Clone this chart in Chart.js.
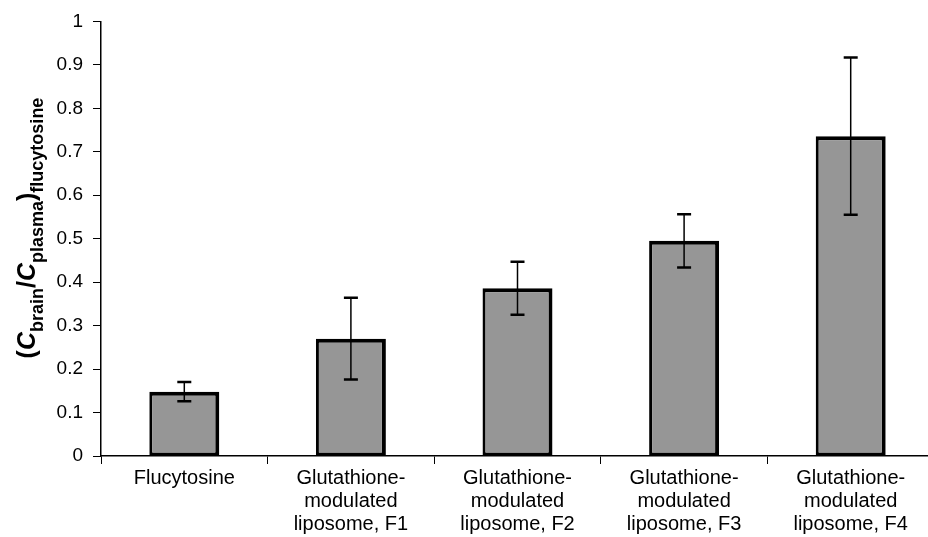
<!DOCTYPE html>
<html><head><meta charset="utf-8">
<script src="https://cdn.jsdelivr.net/npm/chart.js@4"></script>
<style>
html,body{margin:0;padding:0;background:#fff;overflow:hidden;width:928px;height:537px}
#wrap{position:relative;width:934px;height:537px}
canvas{display:block}
</style></head><body>
<div id="wrap"><canvas id="c" width="934" height="537"></canvas></div>
<script>
const categories = [
  ['Flucytosine'],
  ['Glutathione-','modulated','liposome, F1'],
  ['Glutathione-','modulated','liposome, F2'],
  ['Glutathione-','modulated','liposome, F3'],
  ['Glutathione-','modulated','liposome, F4']
];
const means = [0.148, 0.27, 0.386, 0.495, 0.736];
const errors = [0.022, 0.094, 0.061, 0.061, 0.181];
const yMin = 0, yMax = 1, yStep = 0.1;

const FONT = '"Liberation Sans", Arial, sans-serif';

const errorBarPlugin = {
  id: 'errorBars',
  afterDatasetsDraw(chart) {
    const ctx = chart.ctx, y = chart.scales.y;
    const meta = chart.getDatasetMeta(0);
    ctx.save();
    ctx.strokeStyle = '#000';
    meta.data.forEach((bar, i) => {
      const x = bar.x;
      const t = y.getPixelForValue(means[i] + errors[i]);
      const b = y.getPixelForValue(means[i] - errors[i]);
      ctx.lineWidth = 1.5;
      ctx.beginPath(); ctx.moveTo(x, t); ctx.lineTo(x, b); ctx.stroke();
      ctx.lineWidth = 2.5;
      ctx.beginPath();
      ctx.moveTo(x - 7, t); ctx.lineTo(x + 7, t);
      ctx.moveTo(x - 7, b); ctx.lineTo(x + 7, b);
      ctx.stroke();
    });
    ctx.restore();
  }
};

const yTitlePlugin = {
  id: 'yTitle',
  afterDraw(chart) {
    const ctx = chart.ctx;
    const big = 'bold 25px ' + FONT, bigI = 'italic bold 25px ' + FONT, small = 'bold 18px ' + FONT;
    const segs = [
      {t:'(', f:big, dy:0}, {t:'C', f:bigI, dy:0}, {t:'brain', f:small, dy:8},
      {t:'/', f:big, dy:0}, {t:'C', f:bigI, dy:0}, {t:'plasma', f:small, dy:8},
      {t:')', f:big, dy:0}, {t:'flucytosine', f:small, dy:8}
    ];
    let total = 0;
    segs.forEach(s => { ctx.font = s.f; s.w = ctx.measureText(s.t).width; total += s.w; });
    ctx.save();
    ctx.translate(35, 228);
    ctx.rotate(-Math.PI / 2);
    ctx.fillStyle = '#000';
    ctx.textBaseline = 'alphabetic';
    ctx.textAlign = 'left';
    let x = -total / 2;
    segs.forEach(s => { ctx.font = s.f; ctx.fillText(s.t, x, s.dy); x += s.w; });
    ctx.restore();
  }
};

new Chart(document.getElementById('c'), {
  type: 'bar',
  data: {
    labels: categories,
    datasets: [{
      data: means,
      backgroundColor: '#969696',
      borderColor: '#000',
      borderWidth: {top: 4, right: 4, bottom: 3, left: 3},
      borderSkipped: false,
      categoryPercentage: 1.0,
      barPercentage: 0.42
    }]
  },
  options: {
    responsive: false,
    animation: false,
    layout: {padding: {top: 20, right: 0, bottom: 0, left: 0}},
    plugins: {legend: {display: false}, tooltip: {enabled: false}},
    scales: {
      x: {
        offset: true,
        grid: {offset: true, drawOnChartArea: false, drawTicks: true, tickLength: 8, color: '#000', lineWidth: 1},
        border: {display: true, color: '#000', width: 1.5},
        ticks: {color: '#000', font: {family: FONT, size: 20, lineHeight: 1.15}, padding: 3, maxRotation: 0, autoSkip: false},
        afterFit(scale) { scale.height = 81; }
      },
      y: {
        min: yMin, max: yMax,
        grid: {drawOnChartArea: false, drawTicks: true, tickLength: 8, color: '#000', lineWidth: 1},
        border: {display: true, color: '#000', width: 1.5},
        ticks: {stepSize: yStep, color: '#000', font: {family: FONT, size: 19}, padding: 10,
          callback: v => String(Math.round(v * 10) / 10)},
        afterFit(scale) { scale.width = 101; }
      }
    }
  },
  plugins: [errorBarPlugin, yTitlePlugin]
});
</script>
</body></html>
